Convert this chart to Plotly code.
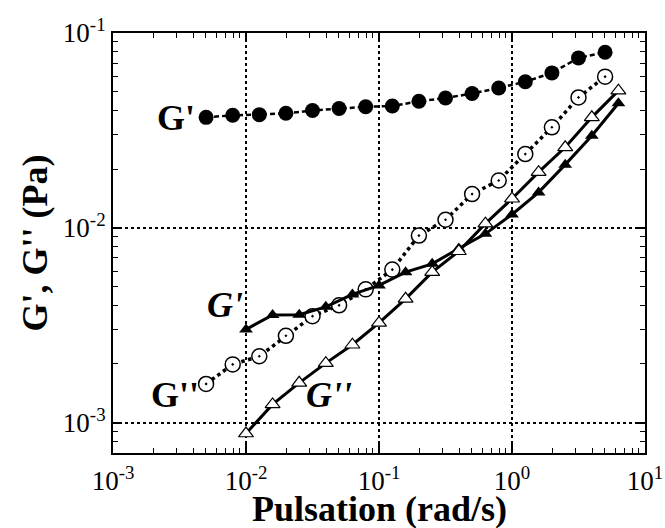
import numpy as np
import plotly.graph_objects as go

# Angular frequencies (rad/s)
w_circles = [10 ** (-2.3 + 0.2 * k) for k in range(16)]
w_triangles = [10 ** (-2.0 + 0.2 * k) for k in range(15)]

# Storage / loss moduli (Pa)
gp_circles = [0.0369, 0.0378, 0.0381, 0.0387, 0.0400, 0.0410, 0.0418, 0.0422,
              0.0446, 0.0464, 0.0489, 0.0522, 0.0562, 0.0624, 0.0745, 0.0796]
gpp_circles = [0.00158, 0.00199, 0.00219, 0.00279, 0.00352, 0.00400, 0.00483, 0.00610,
               0.00912, 0.0110, 0.0149, 0.0175, 0.0239, 0.0328, 0.0467, 0.0597]
gp_triangles = [0.00301, 0.00357, 0.00358, 0.00393, 0.00455, 0.00506, 0.00592, 0.00653,
                0.00783, 0.00931, 0.0117, 0.0152, 0.0211, 0.0297, 0.0436]
gpp_triangles = [0.000879, 0.00124, 0.00160, 0.00202, 0.00251, 0.00325, 0.00432, 0.00592,
                 0.00758, 0.0105, 0.0141, 0.0193, 0.0259, 0.0369, 0.0506]

x_tickvals = [1e-3, 1e-2, 1e-1, 1e0, 1e1]
x_ticktext = ["10<sup>-3</sup>", "10<sup>-2</sup>", "10<sup>-1</sup>", "10<sup>0</sup>", "10<sup>1</sup>"]
y_tickvals = [1e-3, 1e-2, 1e-1]
y_ticktext = ["10<sup>-3</sup>", "10<sup>-2</sup>", "10<sup>-1</sup>"]

# Curve labels: (x, y, text)
curve_labels = [
    (0.0030, 0.0368, "<b>G'</b>"),
    (0.0029, 0.00138, "<b>G''</b>"),
    (0.0069, 0.0040, "<b><i>G'</i></b>"),
    (0.042, 0.00138, "<b><i>G''</i></b>"),
]

SERIF = "Liberation Serif"

# Minor tick positions 2..9 in each decade
x_minor = [m * 10.0 ** d for d in range(-3, 1) for m in range(2, 10)]
y_minor = [m * 10.0 ** d for d in range(-4, -1) for m in range(2, 10)]

fig = go.Figure()

fig.add_trace(go.Scatter(
    x=w_circles, y=gp_circles, mode="lines+markers",
    line=dict(color="black", width=2.5, dash="5px,3px"),
    marker=dict(symbol="circle", size=15, color="black"),
))
fig.add_trace(go.Scatter(
    x=w_circles, y=gpp_circles, mode="lines+markers",
    line=dict(color="black", width=3.5, dash="dot"),
    marker=dict(symbol="circle-dot", size=15, color="white", line=dict(color="black", width=1.5)),
))
fig.add_trace(go.Scatter(
    x=w_triangles, y=gp_triangles, mode="lines+markers",
    line=dict(color="black", width=3),
    marker=dict(symbol="triangle-up", size=12, color="black"),
))
fig.add_trace(go.Scatter(
    x=w_triangles, y=gpp_triangles, mode="lines+markers",
    line=dict(color="black", width=3),
    marker=dict(symbol="triangle-up", size=13, color="white", line=dict(color="black", width=1.2)),
))

for lx, ly, txt in curve_labels:
    fig.add_annotation(x=np.log10(lx), y=np.log10(ly), text=txt, showarrow=False,
                       font=dict(family=SERIF, size=36, color="black"))

# x-axis title, set below the tick labels
fig.add_annotation(xref="paper", yref="paper", x=0.5, y=-0.133, xanchor="center", yanchor="middle",
                   text="<b>Pulsation (rad/s)</b>", showarrow=False,
                   font=dict(family=SERIF, size=36, color="black"))

axis_common = dict(
    type="log", showline=True, linecolor="black", linewidth=2, mirror="ticks",
    ticks="inside", ticklen=9, tickwidth=1.5, tickcolor="black",
    showgrid=True, gridcolor="black", gridwidth=1.5, griddash="dot",
    zeroline=False, automargin=False,
    tickfont=dict(family=SERIF, size=27, color="black"),
)

fig.update_xaxes(range=[-3, 1], tickvals=x_tickvals, ticktext=x_ticktext,
                 ticklabelstandoff=3,
                 minor=dict(tickmode="array", tickvals=x_minor, ticks="inside", ticklen=5,
                            tickwidth=1.2, tickcolor="black", showgrid=False),
                 **axis_common)
fig.update_yaxes(range=[-3.156, -1.0], tickvals=y_tickvals, ticktext=y_ticktext,
                 minor=dict(tickmode="array", tickvals=y_minor, ticks="inside", ticklen=5,
                            tickwidth=1.2, tickcolor="black", showgrid=False),
                 title=dict(text="<b>G', G'' (Pa)</b>", font=dict(family=SERIF, size=36, color="black"),
                            standoff=4),
                 **axis_common)

fig.update_layout(
    width=665, height=528,
    margin=dict(l=113, r=20, t=33, b=75),
    paper_bgcolor="white", plot_bgcolor="white",
    showlegend=False,
)

fig.write_html("out.html")
